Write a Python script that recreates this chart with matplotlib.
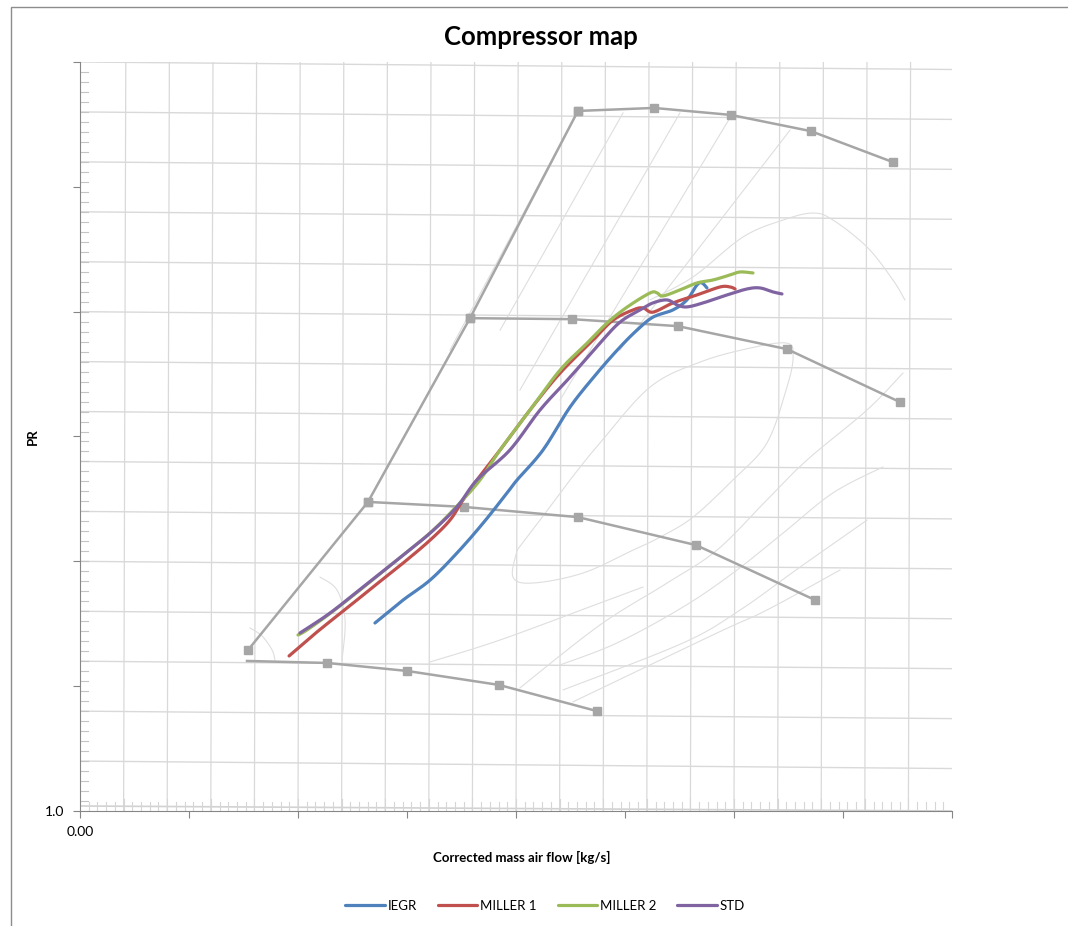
import matplotlib.pyplot as plt
import numpy as np
from matplotlib.patches import Rectangle

plt.rcParams['font.family'] = ['Lato', 'DejaVu Sans']

# measured operating lines (corrected mass flow [kg/s], pressure ratio)
iegr_flow = [0.1353, 0.1482, 0.1606, 0.1729, 0.1849, 0.1959, 0.2005, 0.2124, 0.2248,
             0.2372, 0.2477, 0.2555, 0.2628, 0.2720, 0.2784, 0.2830, 0.2853, 0.2876]
iegr_pr = [1.753, 1.845, 1.925, 2.033, 2.153, 2.274, 2.326, 2.446, 2.618,
           2.754, 2.858, 2.926, 2.978, 3.007, 3.047, 3.107, 3.115, 3.095]

miller1_flow = [0.0959, 0.1087, 0.1225, 0.1344, 0.1482, 0.1606, 0.1697, 0.1757, 0.1821,
                0.1927, 0.2064, 0.2202, 0.2353, 0.2445, 0.2537, 0.2583, 0.2628, 0.2720,
                0.2830, 0.2936, 0.2982, 0.3005]
miller1_pr = [1.621, 1.717, 1.813, 1.897, 1.993, 2.085, 2.165, 2.246, 2.326,
              2.446, 2.606, 2.754, 2.886, 2.966, 3.007, 3.015, 2.998, 3.035,
              3.067, 3.099, 3.099, 3.091]

miller2_flow = [0.1000, 0.1041, 0.1156, 0.1307, 0.1459, 0.1610, 0.1734, 0.1835, 0.1927,
                0.2064, 0.2202, 0.2326, 0.2417, 0.2509, 0.2615, 0.2647, 0.2674, 0.2752,
                0.2830, 0.2904, 0.2982, 0.3028, 0.3087]
miller2_pr = [1.705, 1.725, 1.797, 1.901, 2.009, 2.117, 2.226, 2.326, 2.446,
              2.606, 2.766, 2.874, 2.954, 3.018, 3.075, 3.075, 3.063, 3.087,
              3.115, 3.127, 3.147, 3.159, 3.155]

std_flow = [0.1009, 0.1147, 0.1298, 0.1454, 0.1606, 0.1729, 0.1821, 0.1972, 0.2110,
            0.2248, 0.2385, 0.2477, 0.2569, 0.2628, 0.2693, 0.2739, 0.2784, 0.2858,
            0.2968, 0.3060, 0.3119, 0.3179, 0.3220]
std_pr = [1.713, 1.793, 1.897, 2.005, 2.113, 2.218, 2.326, 2.446, 2.606,
          2.738, 2.874, 2.958, 3.007, 3.035, 3.047, 3.027, 3.019, 3.035,
          3.067, 3.091, 3.095, 3.079, 3.071]

# compressor map: surge line and constant speed lines
surge_flow = [0.0771, 0.1321, 0.1789, 0.2284]
surge_pr = [1.645, 2.238, 2.974, 3.804]
speed1_flow = [0.2284, 0.2633, 0.2986, 0.3353, 0.3729]
speed1_pr = [3.804, 3.816, 3.788, 3.723, 3.599]
speed2_flow = [0.1789, 0.2257, 0.2743, 0.3243, 0.3761]
speed2_pr = [2.974, 2.970, 2.942, 2.850, 2.638]
speed3_flow = [0.1321, 0.1761, 0.2284, 0.2826, 0.3372]
speed3_pr = [2.238, 2.218, 2.177, 2.065, 1.845]
speed4_flow = [0.0766, 0.1133, 0.1500, 0.1922, 0.2372]
speed4_pr = [1.601, 1.593, 1.561, 1.505, 1.400]

# traced contours of the underlying manufacturer map
island_flow = [0.2005, 0.2110, 0.2248, 0.2385, 0.2615, 0.2844, 0.3073, 0.3243, 0.3271, 0.3243,
               0.3151, 0.2995, 0.2812, 0.2661, 0.2537, 0.2307, 0.2078, 0.1986, 0.2005]
island_pr = [2.045, 2.165, 2.326, 2.474, 2.698, 2.798, 2.854, 2.874, 2.818, 2.698,
             2.474, 2.326, 2.177, 2.097, 2.045, 1.953, 1.913, 1.937, 2.045]
outer_flow = [0.2615, 0.2812, 0.3041, 0.3225, 0.3362, 0.3454, 0.3610, 0.3729, 0.3784]
outer_pr = [3.047, 3.139, 3.299, 3.367, 3.395, 3.367, 3.259, 3.127, 3.047]
contours = [
    ([0.2018, 0.2385, 0.2693, 0.2922, 0.3151, 0.3335, 0.3610, 0.3775],
     [1.493, 1.745, 1.913, 2.045, 2.246, 2.406, 2.606, 2.754]),
    ([0.2202, 0.2463, 0.2766, 0.2995, 0.3225, 0.3454, 0.3683],
     [1.585, 1.673, 1.817, 1.953, 2.113, 2.274, 2.378]),
    ([0.2216, 0.2766, 0.3028, 0.3303, 0.3610],
     [1.485, 1.673, 1.805, 1.977, 2.165]),
    ([0.2261, 0.2922, 0.3151, 0.3486],
     [1.437, 1.713, 1.805, 1.965]),
    ([0.1606, 0.1927, 0.2385, 0.2583],
     [1.597, 1.685, 1.833, 1.897]),
    ([0.1697, 0.2280], [2.846, 3.796]),
    ([0.1927, 0.2491], [2.926, 3.796]),
    ([0.2018, 0.2752], [2.686, 3.796]),
    ([0.2202, 0.2995], [2.646, 3.796]),
    ([0.2477, 0.3257], [2.846, 3.727]),
    ([0.1101, 0.1179, 0.1216, 0.1202], [1.937, 1.885, 1.765, 1.605]),
    ([0.0780, 0.0835, 0.0881, 0.0894], [1.733, 1.701, 1.645, 1.605]),
]


def smooth(xs, ys, n=12):
    # Catmull-Rom curve through the points, like Excel's smoothed lines
    p = np.column_stack([xs, ys]).astype(float)
    p = np.vstack([p[0], p, p[-1]])
    out = []
    t = np.linspace(0, 1, n, endpoint=False)[:, None]
    for i in range(1, len(p) - 2):
        p0, p1, p2, p3 = p[i - 1], p[i], p[i + 1], p[i + 2]
        seg = 0.5 * ((2 * p1) + (-p0 + p2) * t + (2 * p0 - 5 * p1 + 4 * p2 - p3) * t ** 2
                     + (-p0 + 3 * p1 - 3 * p2 + p3) * t ** 3)
        out.append(seg)
    out.append(p[-2][None, :])
    out = np.vstack(out)
    return out[:, 0], out[:, 1]


fig = plt.figure(figsize=(10.68, 9.26), dpi=100)
ax = fig.add_axes([80 / 1068, 1 - 811 / 926, 872 / 1068, 749 / 926])
fig.patches.append(Rectangle((11 / 1068, -0.01), 1.0, 1 - 7 / 926 + 0.01,
                             transform=fig.transFigure, fill=False,
                             edgecolor='#8c8c8c', linewidth=1.0))

# scanned map grid (slightly skewed)
grid_c = '#d9d9d9'
for y0 in np.arange(1.2, 4.01, 0.2):
    ax.plot([0, 0.4], [y0, y0 - 0.03], color=grid_c, lw=1.0, zorder=1)
for x0 in np.arange(0.02, 0.39, 0.02):
    ax.plot([x0, x0 + 0.001], [1.0, 4.0], color=grid_c, lw=0.9, zorder=1)
ax.plot([0, 0.4], [1.02, 1.0], color='#d2d2d2', lw=1.2, zorder=1)
for x0 in np.arange(0.004, 0.4, 0.004):
    top = 1.05 if abs(x0 / 0.02 - round(x0 / 0.02)) < 1e-6 else 1.035
    ax.plot([x0, x0], [1.0, top], color='#d6d6d6', lw=0.8, zorder=1)
for y0 in np.arange(1.04, 4.0, 0.04):
    ax.plot([0, 0.0037], [y0, y0], color='#c4c4c4', lw=0.8, zorder=1)

faint = dict(color='#dedede', lw=0.8, zorder=2)
for cx, cy in contours:
    ax.plot(*smooth(cx, cy), **faint)
ax.plot(*smooth(island_flow, island_pr), **faint)
ax.plot(*smooth(outer_flow, outer_pr), **faint)

map_style = dict(color='#a6a6a6', lw=1.8, marker='s', markersize=6, zorder=3)
ax.plot(surge_flow, surge_pr, **map_style)
ax.plot(speed1_flow, speed1_pr, **map_style)
ax.plot(speed2_flow, speed2_pr, **map_style)
ax.plot(speed3_flow, speed3_pr, **map_style)
ax.plot(speed4_flow, speed4_pr, markevery=slice(1, None), **map_style)

series = [
    (iegr_flow, iegr_pr, '#4f81bd', 'IEGR'),
    (miller1_flow, miller1_pr, '#c0504d', 'MILLER 1'),
    (miller2_flow, miller2_pr, '#9bbb59', 'MILLER 2'),
    (std_flow, std_pr, '#8064a2', 'STD'),
]
for fx, fy, col, name in series:
    sx, sy = smooth(fx, fy)
    ax.plot(sx, sy, color=col, lw=2.3, label=name, zorder=5,
            solid_capstyle='round')

ax.set_xlim(0, 0.4)
ax.set_ylim(1.0, 4.0)
ax.set_xticks(np.arange(0, 0.401, 0.05))
ax.set_xticklabels(['0.00'] + [''] * 8)
ax.set_yticks(np.arange(1.0, 4.01, 0.5))
ax.set_yticklabels(['1.0'] + [''] * 6)
ax.tick_params(direction='out', length=5, color='#868686', labelsize=10, pad=6)
for side in ('top', 'right'):
    ax.spines[side].set_visible(False)
for side in ('left', 'bottom'):
    ax.spines[side].set_color('#868686')

fig.text(541 / 1068, 1 - 37 / 926, 'Compressor map', ha='center', va='center',
         fontsize=18.5, fontweight='bold')
fig.text(33 / 1068, 1 - 437 / 926, 'PR', ha='center', va='center', rotation=90,
         fontsize=9.5, fontweight='bold')
fig.text(522 / 1068, 1 - 857 / 926, 'Corrected mass air flow [kg/s]', ha='center',
         va='center', fontsize=9.5, fontweight='bold')
fig.legend(loc='center', bbox_to_anchor=(545 / 1068, 1 - 906 / 926), ncol=4,
           frameon=False, fontsize=9.5, handlelength=3.0, handletextpad=0.2,
           columnspacing=1.6)

fig.savefig('out.png', dpi=100, facecolor='white')
